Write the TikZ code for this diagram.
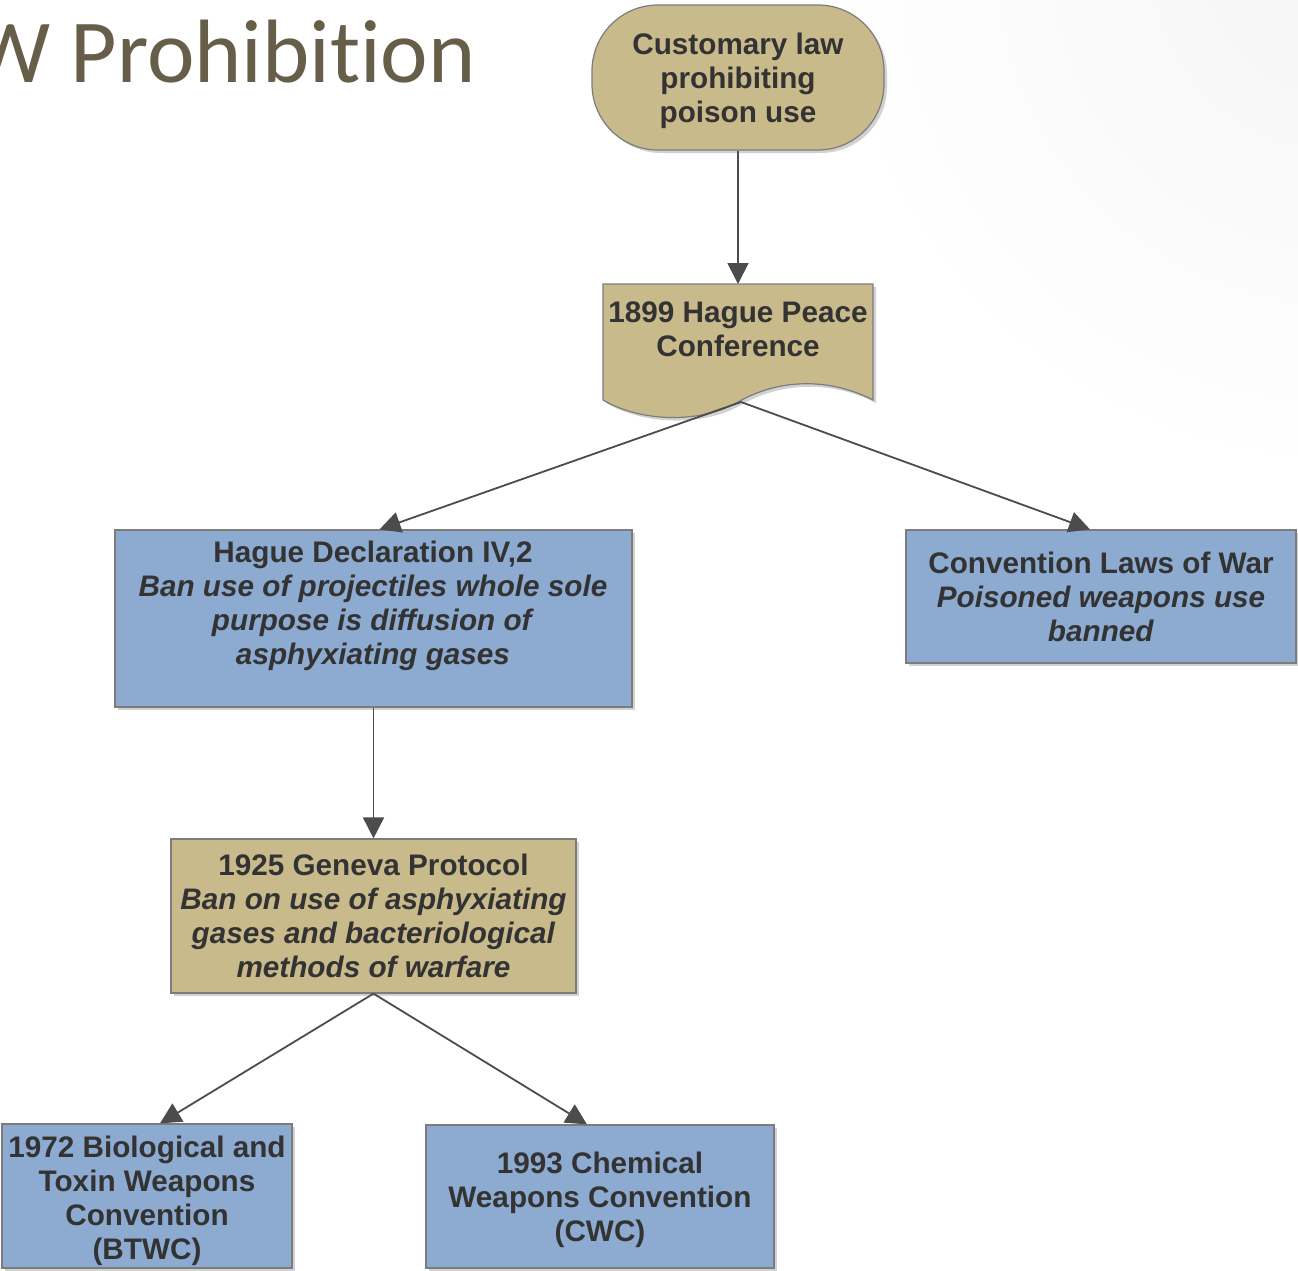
\documentclass[tikz,border=0pt]{standalone}
\usepackage{fontspec}
\setmainfont{Liberation Sans}
\newfontfamily\titlefont[Ligatures=NoCommon]{Carlito}
\usetikzlibrary{arrows.meta,shadows}
\definecolor{tanfill}{HTML}{C9BA8C}
\definecolor{bluefill}{HTML}{8DAAD0}
\definecolor{edgegray}{HTML}{7C7C7C}
\definecolor{txtc}{HTML}{333333}
\definecolor{arrowc}{HTML}{4C4C4C}
\definecolor{titlec}{HTML}{665E48}
\begin{document}
\begin{tikzpicture}[x=1pt,y=-1pt,
  boxtext/.style={font=\bfseries\fontsize{29.7}{34}\selectfont, text=txtc, align=center, inner sep=0pt},
  shapebase/.style={draw=edgegray, line width=1.2pt, drop shadow={shadow xshift=3pt, shadow yshift=-3pt, opacity=0.35}},
  tanbox/.style={shapebase, fill=tanfill},
  bluebox/.style={shapebase, fill=bluefill},
  conn/.style={draw=arrowc, line width=1.8pt, -{Triangle[length=21pt,width=21pt]}},
]
\clip (0,0) rectangle (1298,1271);
\fill[white] (0,0) rectangle (1298,1271);
\shade[inner color=gray!8, outer color=white] (1340,-40) circle (520);

% title
\node[font=\titlefont\fontsize{90}{100}\selectfont, text=titlec, anchor=base east, inner sep=0pt] (title) at (476,83) {W Prohibition};

% top stadium node
\node[tanbox, rounded corners=66pt, minimum width=292pt, minimum height=145pt] (top) at (738,77.5) {};
\node[boxtext] (toptext) at (738,80.5) {Customary law\\prohibiting\\poison use};

% document shape
\path[tanbox] (603,284) -- (873,284) -- (873,400)
  .. controls (830,378) and (780,378) .. (738,402)
  .. controls (700,424) and (640,422) .. (603,400) -- cycle;
\node[boxtext] (doc) at (738,329) {1899 Hague Peace\\Conference};
\coordinate (doctop) at (738,284);
\coordinate (docbot) at (741,402);

% boxes
\node[bluebox, minimum width=517pt, minimum height=177pt] (decl) at (373.5,618.5) {};
\node[boxtext] (decltext) at (373,606) {Hague Declaration IV,2\\\textit{Ban use of projectiles whole sole}\\\textit{purpose is diffusion of}\\\textit{asphyxiating gases}};

\node[bluebox, boxtext, minimum width=390pt, minimum height=133pt] (conv) at (1101,596.5) {Convention Laws of War\\\textit{Poisoned weapons use}\\\textit{banned}};

\node[tanbox, boxtext, minimum width=405pt, minimum height=154pt] (geneva) at (373.5,916) {1925 Geneva Protocol\\\textit{Ban on use of asphyxiating}\\\textit{gases and bacteriological}\\\textit{methods of warfare}};

\node[bluebox, minimum width=290pt, minimum height=144pt] (btwc) at (147,1196) {};
\node[boxtext] (btwctext) at (147,1200.5) {1972 Biological and\\Toxin Weapons\\Convention\\(BTWC)};

\node[bluebox, minimum width=348pt, minimum height=143pt] (cwc) at (600,1196.5) {};
\node[boxtext] (cwctext) at (600,1199.5) {1993 Chemical\\Weapons Convention\\(CWC)};

% connectors
\draw[conn] (top.south) -- (doctop);
\draw[conn] (docbot) -- ([xshift=6pt]decl.north);
\draw[conn] (docbot) -- ([xshift=-11pt]conv.north);
\draw[conn] (decl.south) -- (geneva.north);
\draw[conn] (geneva.south) -- ([xshift=13pt]btwc.north);
\draw[conn] (geneva.south) -- ([xshift=-13pt]cwc.north);
\end{tikzpicture}
\end{document}
